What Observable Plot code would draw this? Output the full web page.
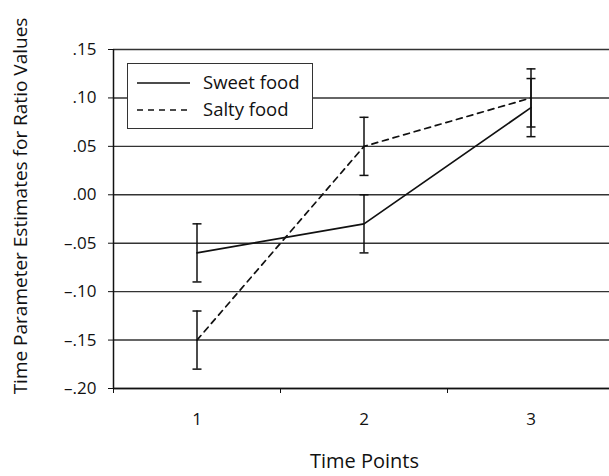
<!DOCTYPE html>
<html>
<head>
<meta charset="utf-8">
<script src="https://cdn.jsdelivr.net/npm/d3@7"></script>
<script src="https://cdn.jsdelivr.net/npm/@observablehq/plot@0.6"></script>
<style>
  body { margin: 0; background: #fff; font-family: "Open Sans", sans-serif; }
  #wrap { position: relative; width: 609px; height: 476px; }
  #legend { position: absolute; left: 127px; top: 63px; width: 186px; height: 66px;
    border: 1px solid #333; background: #fff; box-sizing: border-box; }
  #legend svg { position: absolute; left: 0; top: 0; }
</style>
</head>
<body>
<div id="wrap"></div>
<script>
// ---- data ----
const timePoints = [1, 2, 3];
const sweetMean = [-0.06, -0.03, 0.09];
const sweetLo = [-0.09, -0.06, 0.06];
const sweetHi = [-0.03, 0.00, 0.12];
const saltyMean = [-0.15, 0.05, 0.10];
const saltyLo = [-0.18, 0.02, 0.07];
const saltyHi = [-0.12, 0.08, 0.13];
const yTicks = [-0.20, -0.15, -0.10, -0.05, 0.00, 0.05, 0.10, 0.15];
const yTickLabels = ["–.20", "–.15", "–.10", "–.05", ".00", ".05", ".10", ".15"];
const xBoundaries = [0.5, 1.5, 2.5, 3.5];
const seriesNames = ["Sweet food", "Salty food"];

const rows = [];
timePoints.forEach((t, i) => {
  rows.push({series: seriesNames[0], t, m: sweetMean[i], lo: sweetLo[i], hi: sweetHi[i]});
  rows.push({series: seriesNames[1], t, m: saltyMean[i], lo: saltyLo[i], hi: saltyHi[i]});
});
const sweet = rows.filter(d => d.series === seriesNames[0]);
const salty = rows.filter(d => d.series === seriesNames[1]);

const cap = { draw(ctx) { ctx.moveTo(-4.5, 0); ctx.lineTo(4.5, 0); } };
const font = "Open Sans";

const chart = Plot.plot({
  width: 609,
  height: 476,
  marginLeft: 113,
  marginRight: 0,
  marginTop: 49,
  marginBottom: 88,
  style: { fontFamily: font, fontSize: "17px", color: "#111", background: "#fff" },
  x: { domain: [0.5, 3.5], range: [113, 614] },
  y: { domain: [-0.20, 0.15] },
  marks: [
    Plot.gridY(yTicks, { stroke: "#333", strokeOpacity: 1, strokeWidth: 1.4 }),
    Plot.axisY(yTicks, { tickFormat: d => yTickLabels[yTicks.indexOf(d)], tickSize: 5,
      tickPadding: 12, label: null, stroke: "#111", fontSize: 17 }),
    Plot.axisX(xBoundaries, { tickFormat: () => "", tickSize: 5, label: null, stroke: "#111" }),
    Plot.axisX(timePoints, { tickFormat: d => String(d), tickSize: 0, tickPadding: 24, label: null, fontSize: 17 }),
    Plot.ruleX([0.5], { stroke: "#111", strokeWidth: 1.5 }),
    Plot.ruleY([-0.20], { stroke: "#111", strokeWidth: 1.5 }),
    Plot.line(salty, { x: "t", y: "m", stroke: "#111", strokeWidth: 1.7, strokeDasharray: "6,5" }),
    Plot.line(sweet, { x: "t", y: "m", stroke: "#111", strokeWidth: 1.7 }),
    Plot.ruleX(rows, { x: "t", y1: "lo", y2: "hi", stroke: "#111", strokeWidth: 1.5 }),
    Plot.dot(rows, { x: "t", y: "lo", symbol: cap, r: 4, stroke: "#111", strokeWidth: 1.5, fill: "none" }),
    Plot.dot(rows, { x: "t", y: "hi", symbol: cap, r: 4, stroke: "#111", strokeWidth: 1.5, fill: "none" }),
    Plot.text(["Time Parameter Estimates for Ratio Values"], { frameAnchor: "left", dx: -93, dy: -13,
      rotate: -90, textAnchor: "middle", lineAnchor: "middle", fontSize: 19, fill: "#111" }),
    Plot.text(["Time Points"], { frameAnchor: "bottom", dx: 3, dy: 65, lineAnchor: "top",
      textAnchor: "middle", fontSize: 20, fill: "#111" })
  ]
});

const wrap = document.getElementById("wrap");
wrap.appendChild(chart);

// legend
const leg = document.createElement("div");
leg.id = "legend";
const ns = "http://www.w3.org/2000/svg";
const svg = document.createElementNS(ns, "svg");
svg.setAttribute("width", 186); svg.setAttribute("height", 66);
const dashes = [null, "6,5"];
seriesNames.forEach((name, i) => {
  const y = 19 + i * 27;
  const ln = document.createElementNS(ns, "line");
  ln.setAttribute("x1", 9); ln.setAttribute("x2", 62);
  ln.setAttribute("y1", y); ln.setAttribute("y2", y);
  ln.setAttribute("stroke", "#111"); ln.setAttribute("stroke-width", 1.7);
  if (dashes[i]) ln.setAttribute("stroke-dasharray", dashes[i]);
  svg.appendChild(ln);
  const tx = document.createElementNS(ns, "text");
  tx.setAttribute("x", 75); tx.setAttribute("y", y);
  tx.setAttribute("dy", "0.35em");
  tx.setAttribute("font-family", font);
  tx.setAttribute("font-size", 18.5);
  tx.setAttribute("fill", "#111");
  tx.textContent = name;
  svg.appendChild(tx);
});
leg.appendChild(svg);
wrap.appendChild(leg);
</script>
</body>
</html>
